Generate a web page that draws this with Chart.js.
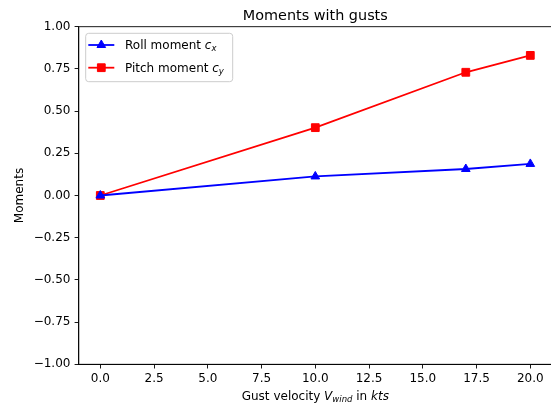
<!DOCTYPE html>
<html>
<head>
<meta charset="utf-8">
<script src="https://cdn.jsdelivr.net/npm/chart.js@4.4.1/dist/chart.umd.min.js"></script>
<style>
  html, body { margin: 0; padding: 0; overflow: hidden; background: #fff; }
  #wrap { position: relative; width: 560px; height: 408px; }
</style>
</head>
<body>
<div id="wrap"><canvas id="c"></canvas></div>
<script>
// Gust velocity (kts) and the resulting moment coefficients
const gustSpeeds  = [0, 10, 17, 20];
const rollMoment  = [0, 0.113, 0.157, 0.187];
const pitchMoment = [0, 0.402, 0.730, 0.830];

const xTickValues = [0, 2.5, 5, 7.5, 10, 12.5, 15, 17.5, 20];
const yTickValues = [-1, -0.75, -0.5, -0.25, 0, 0.25, 0.5, 0.75, 1];

const FONT = '"DejaVu Sans", sans-serif';
const toPoints = ys => gustSpeeds.map((x, i) => ({ x, y: ys[i] }));
const fmtTick = (v, d) => v.toFixed(d).replace('-', '\u2212');

// Draws a run of text pieces (normal / italic / subscript) starting at x
function drawRich(ctx, pieces, x, y, align) {
  const sizes = pieces.map(p => {
    ctx.font = (p.it ? 'italic ' : '') + (p.size || 12) + 'px ' + FONT;
    return ctx.measureText(p.t).width;
  });
  const total = sizes.reduce((a, b) => a + b, 0);
  let cx = align === 'center' ? x - total / 2 : x;
  ctx.textAlign = 'left';
  ctx.textBaseline = 'alphabetic';
  pieces.forEach((p, i) => {
    ctx.font = (p.it ? 'italic ' : '') + (p.size || 12) + 'px ' + FONT;
    ctx.fillText(p.t, cx, y + (p.dy || 0));
    cx += sizes[i];
  });
}

function marker(ctx, style, x, y, color) {
  ctx.fillStyle = color;
  ctx.strokeStyle = color;
  ctx.lineWidth = 1;
  ctx.beginPath();
  if (style === 'triangle') {
    const r = 5;
    let a = 0;
    ctx.moveTo(x + Math.sin(a) * r, y - Math.cos(a) * r);
    a += 2 * Math.PI / 3;
    ctx.lineTo(x + Math.sin(a) * r, y - Math.cos(a) * r);
    a += 2 * Math.PI / 3;
    ctx.lineTo(x + Math.sin(a) * r, y - Math.cos(a) * r);
    ctx.closePath();
  } else {
    const s = Math.SQRT1_2 * 5.5;
    ctx.rect(x - s, y - s, 2 * s, 2 * s);
  }
  ctx.fill();
  ctx.stroke();
}

const decorations = {
  id: 'decorations',
  afterDraw(chart) {
    const ctx = chart.ctx;
    const a = chart.chartArea;
    ctx.save();

    // frame around the axes
    ctx.strokeStyle = '#000';
    ctx.lineWidth = 0.9;
    ctx.strokeRect(a.left, a.top, a.right - a.left, a.bottom - a.top);

    ctx.fillStyle = '#000';
    const midX = (a.left + a.right) / 2;

    // title
    ctx.font = '14.4px ' + FONT;
    ctx.textAlign = 'center';
    ctx.textBaseline = 'alphabetic';
    ctx.fillText('Moments with gusts', midX, 20);

    // x-axis title
    drawRich(ctx, [
      { t: 'Gust velocity ' },
      { t: 'V', it: true },
      { t: 'wind', it: true, size: 8.5, dy: 2 },
      { t: ' in ' },
      { t: 'kts', it: true }
    ], midX, 400, 'center');

    // y-axis title
    ctx.save();
    ctx.translate(20, (a.top + a.bottom) / 2);
    ctx.rotate(-Math.PI / 2);
    ctx.font = '12px ' + FONT;
    ctx.textAlign = 'center';
    ctx.textBaseline = 'middle';
    ctx.fillText('Moments', 0, 0);
    ctx.restore();

    // legend
    const bx = 85.7, by = 33.3, bw = 147, bh = 48.4, rr = 3;
    ctx.beginPath();
    ctx.moveTo(bx + rr, by);
    ctx.arcTo(bx + bw, by, bx + bw, by + bh, rr);
    ctx.arcTo(bx + bw, by + bh, bx, by + bh, rr);
    ctx.arcTo(bx, by + bh, bx, by, rr);
    ctx.arcTo(bx, by, bx + bw, by, rr);
    ctx.closePath();
    ctx.fillStyle = 'rgba(255,255,255,0.8)';
    ctx.fill();
    ctx.strokeStyle = '#cccccc';
    ctx.lineWidth = 1;
    ctx.stroke();

    const entries = [
      { ds: chart.data.datasets[0], y: 45, label: [
        { t: 'Roll moment ' }, { t: 'c', it: true }, { t: 'x', it: true, size: 8.5, dy: 2 }
      ] },
      { ds: chart.data.datasets[1], y: 67.7, label: [
        { t: 'Pitch moment ' }, { t: 'c', it: true }, { t: 'y', it: true, size: 8.5, dy: 2 }
      ] }
    ];
    entries.forEach(e => {
      ctx.strokeStyle = e.ds.borderColor;
      ctx.lineWidth = 1.8;
      ctx.beginPath();
      ctx.moveTo(88.3, e.y);
      ctx.lineTo(114.3, e.y);
      ctx.stroke();
      marker(ctx, e.ds.pointStyle, 101.3, e.y, e.ds.borderColor);
      ctx.fillStyle = '#000';
      drawRich(ctx, e.label, 125, e.y + 4.3, 'left');
    });

    ctx.restore();
  }
};

const axisCommon = {
  type: 'linear',
  grid: {
    drawOnChartArea: false,
    drawTicks: true,
    tickLength: 4.2,
    tickColor: '#000',
    tickWidth: 0.9
  },
  border: { display: true, color: '#000', width: 0.9 },
};

new Chart(document.getElementById('c'), {
  type: 'line',
  data: {
    datasets: [
      {
        label: 'Roll moment',
        data: toPoints(rollMoment),
        borderColor: '#0000ff',
        backgroundColor: '#0000ff',
        borderWidth: 1.8,
        pointStyle: 'triangle',
        pointRadius: 5,
        pointBorderWidth: 1,
        tension: 0
      },
      {
        label: 'Pitch moment',
        data: toPoints(pitchMoment),
        borderColor: '#ff0000',
        backgroundColor: '#ff0000',
        borderWidth: 1.8,
        pointStyle: 'rect',
        pointRadius: 5.5,
        pointBorderWidth: 1,
        tension: 0
      }
    ]
  },
  options: {
    responsive: true,
    maintainAspectRatio: false,
    animation: false,
    layout: { padding: { left: 0, right: 8.2, top: 26.7, bottom: 0 } },
    plugins: {
      legend: { display: false },
      title: { display: false },
      tooltip: { enabled: false }
    },
    scales: {
      x: Object.assign({}, axisCommon, {
        min: -1, max: 21,
        afterBuildTicks: s => { s.ticks = xTickValues.map(v => ({ value: v })); },
        afterFit: s => { s.height = 43.7; },
        ticks: {
          padding: 3,
          color: '#000',
          font: { family: FONT, size: 12 },
          maxRotation: 0,
          callback: v => fmtTick(v, 1)
        }
      }),
      y: Object.assign({}, axisCommon, {
        min: -1, max: 1,
        afterBuildTicks: s => { s.ticks = yTickValues.map(v => ({ value: v })); },
        afterFit: s => { s.width = 78.8; },
        ticks: {
          padding: 4.2,
          color: '#000',
          font: { family: FONT, size: 12 },
          callback: v => fmtTick(v, 2)
        }
      })
    }
  },
  plugins: [decorations]
});
</script>
</body>
</html>
